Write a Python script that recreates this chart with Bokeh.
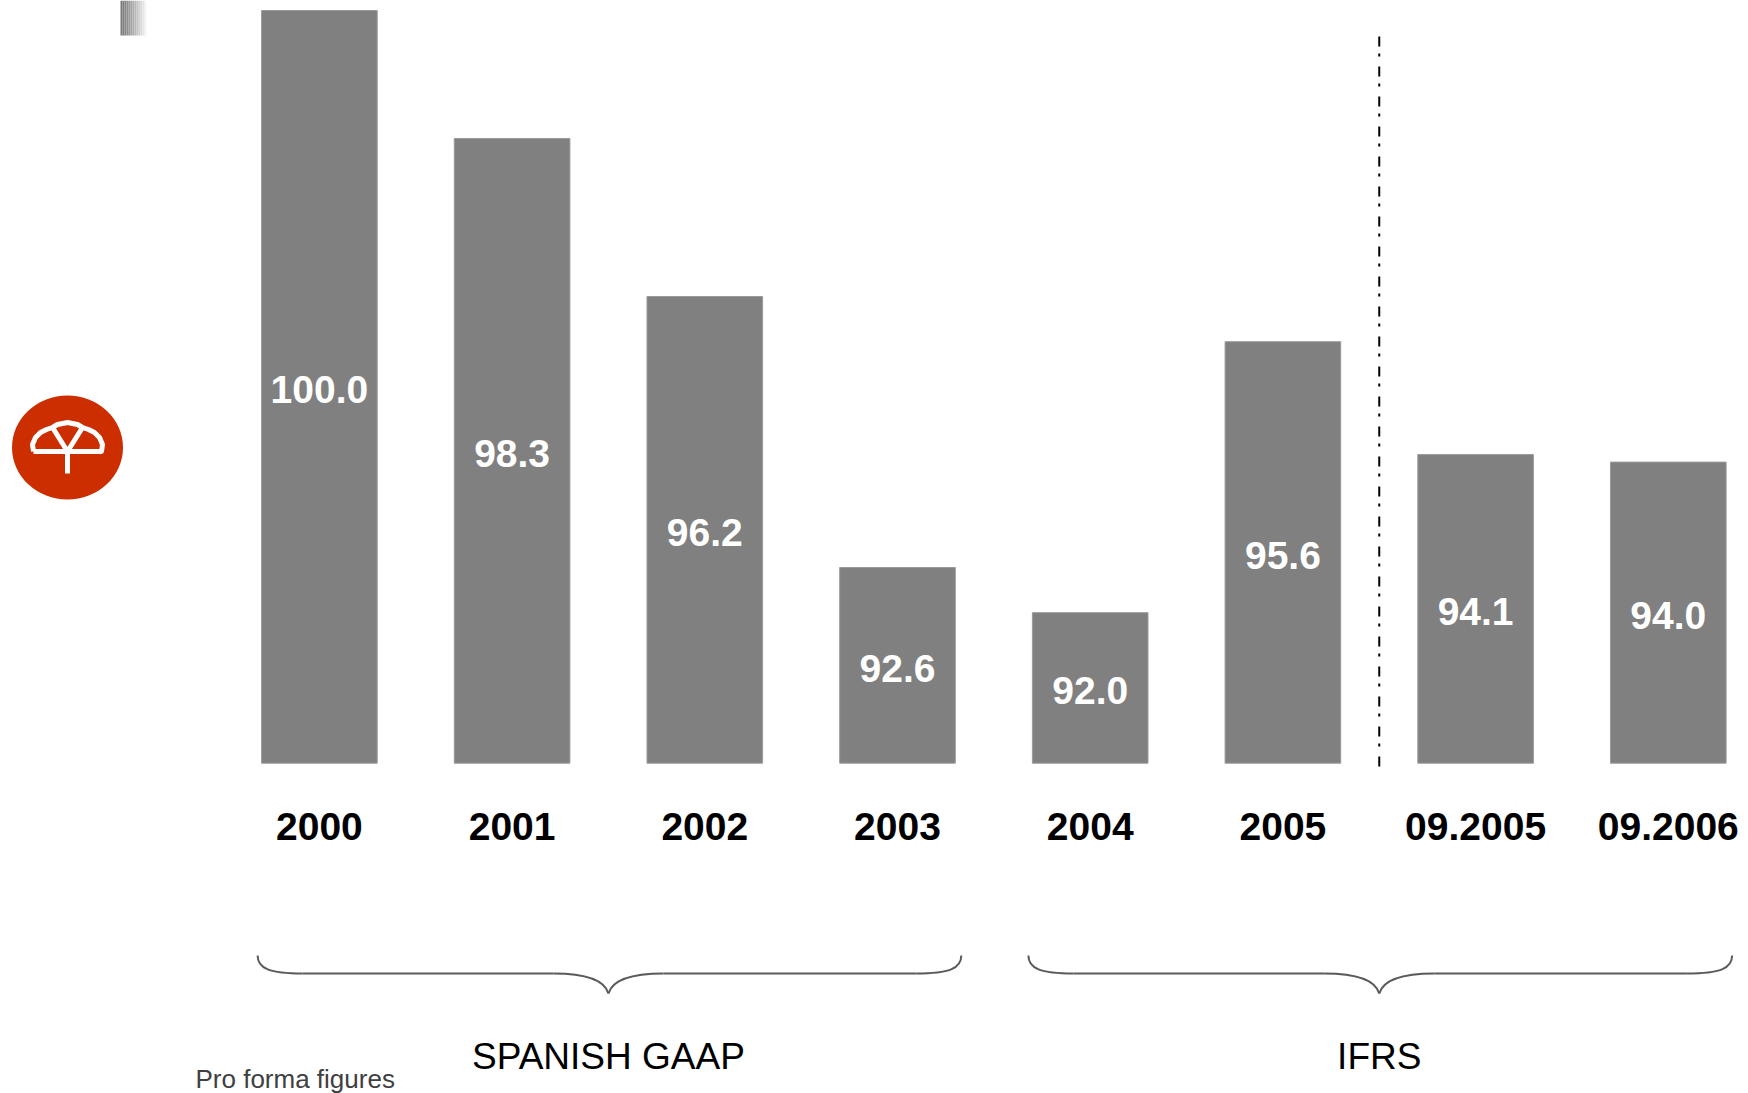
from bokeh.plotting import figure
from bokeh.models import Range1d
from bokeh.core.properties import value
from bokeh.embed import file_html
from bokeh.resources import INLINE

# ---------------- data ----------------
categories = ["2000", "2001", "2002", "2003", "2004", "2005", "09.2005", "09.2006"]
values = [100.0, 98.3, 96.2, 92.6, 92.0, 95.6, 94.1, 94.0]
axis_base = 90.0
groups = ["SPANISH GAAP", "IFRS"]
group_members = [["2000", "2001", "2002", "2003"],
                 ["2004", "2005", "09.2005", "09.2006"]]
divider_after = "2005"
footnote = "Pro forma figures"

# ---------------- layout helpers (pixel <-> data) ----------------
X0_PAGE, X_STEP = 318.9, 192.7      # x of first category centre, px per category
BASE_PAGE, Y_STEP = 762.7, 75.27    # y of axis_base, px per unit


def dx(page_x):
    return (page_x - X0_PAGE) / X_STEP


def dy(page_y):
    return axis_base + (BASE_PAGE - page_y) / Y_STEP


def px(i):
    return X0_PAGE + X_STEP * i


W, H = 1748, 1093
p = figure(width=W, height=H,
           x_range=Range1d(dx(0), dx(W)),
           y_range=Range1d(dy(H), dy(0)),
           output_backend="svg", toolbar_location=None,
           x_axis_location=None, y_axis_location=None,
           min_border=0, outline_line_color=None,
           background_fill_color="white", border_fill_color="white")
p.grid.visible = False

idx = list(range(len(categories)))
FONT = value("Liberation Sans")

# bars
p.vbar(x=idx, top=values, bottom=axis_base, width=0.6,
       fill_color="#808080", line_color="#9a9a9a", line_width=1)

# value labels (centred inside the bars)
p.text(x=idx, y=[(v + axis_base) / 2 for v in values],
       text=[f"{v:.1f}" for v in values], y_offset=3,
       text_color="white", text_font=FONT, text_font_style="bold",
       text_font_size=value("39px"), text_align="center", text_baseline="middle")

# category labels
p.text(x=idx, y=[dy(826)] * len(idx), text=categories,
       text_color="black", text_font=FONT, text_font_style="bold",
       text_font_size=value("39px"), text_align="center", text_baseline="middle")

# divider (dash-dot)
xd = categories.index(divider_after) + 0.5
p.line(x=[xd, xd], y=[dy(36), dy(772)], line_color="black", line_width=2,
       line_dash="10 7 3 10")

# braces + group labels
Y_END, Y_MID, Y_TIP = 955, 973, 993
for g, members in zip(groups, group_members):
    i0 = categories.index(members[0])
    i1 = categories.index(members[-1])
    L = px(i0 - 0.3) - 4
    R = px(i1 + 0.3) + 6
    M = px((i0 + i1) / 2)
    segs = [
        ((L, Y_END), (L + 45, Y_MID), (L, Y_MID - 5), (L + 12, Y_MID)),
        ((M - 55, Y_MID), (M, Y_TIP), (M - 25, Y_MID), (M - 4, Y_MID + 6)),
        ((M, Y_TIP), (M + 55, Y_MID), (M + 4, Y_MID + 6), (M + 25, Y_MID)),
        ((R - 45, Y_MID), (R, Y_END), (R - 12, Y_MID), (R, Y_MID - 5)),
    ]
    p.bezier(x0=[dx(s[0][0]) for s in segs], y0=[dy(s[0][1]) for s in segs],
             x1=[dx(s[1][0]) for s in segs], y1=[dy(s[1][1]) for s in segs],
             cx0=[dx(s[2][0]) for s in segs], cy0=[dy(s[2][1]) for s in segs],
             cx1=[dx(s[3][0]) for s in segs], cy1=[dy(s[3][1]) for s in segs],
             line_color="#5a5a5a", line_width=2)
    p.multi_line(xs=[[dx(L + 45), dx(M - 55)], [dx(M + 55), dx(R - 45)]],
                 ys=[[dy(Y_MID)] * 2, [dy(Y_MID)] * 2],
                 line_color="#5a5a5a", line_width=2)
    p.text(x=[(i0 + i1) / 2], y=[dy(1056)], text=[g], text_color="black",
           text_font=FONT, text_font_size=value("37px"),
           text_align="center", text_baseline="middle")

# footnote
p.text(x=[dx(195)], y=[dy(1078)], text=[footnote], text_color="#404040",
       text_font=FONT, text_font_size=value("26px"),
       text_align="left", text_baseline="middle")

# logo
CX, CY = 67, 447
p.ellipse(x=[dx(CX)], y=[dy(CY)], width=111, height=104,
          width_units="screen", height_units="screen",
          fill_color="#cc2e00", line_color=None)
outline = [(-34, 4), (-35, -3), (-32, -10), (-27, -15), (-21, -18), (-15, -20),
           (-10, -23), (0, -25), (10, -23), (15, -20), (21, -18), (27, -15),
           (32, -10), (35, -3), (34, 4), (-34, 4)]
arms = [(-15, -20), (0, 4), (15, -20)]
stem = [(0, 4), (0, 26)]
shapes = [outline, arms, stem]
p.multi_line(xs=[[dx(CX + a) for a, b in s] for s in shapes],
             ys=[[dy(CY + b) for a, b in s] for s in shapes],
             line_color="white", line_width=5, line_join="round")

# top-left gradient tab
n = 14
lefts, rights, cols = [], [], []
for k in range(n):
    x_a = 120 + 2 * k
    lefts.append(dx(x_a))
    rights.append(dx(x_a + 2))
    t = k / (n - 1)
    c = int(122 + (255 - 122) * t ** 1.2)
    cols.append(f"#{c:02x}{c:02x}{c:02x}")
p.quad(left=lefts, right=rights, top=[dy(0)] * n, bottom=[dy(35)] * n,
       fill_color=cols, line_color=None)

open("out.html", "w").write(file_html(p, INLINE))
